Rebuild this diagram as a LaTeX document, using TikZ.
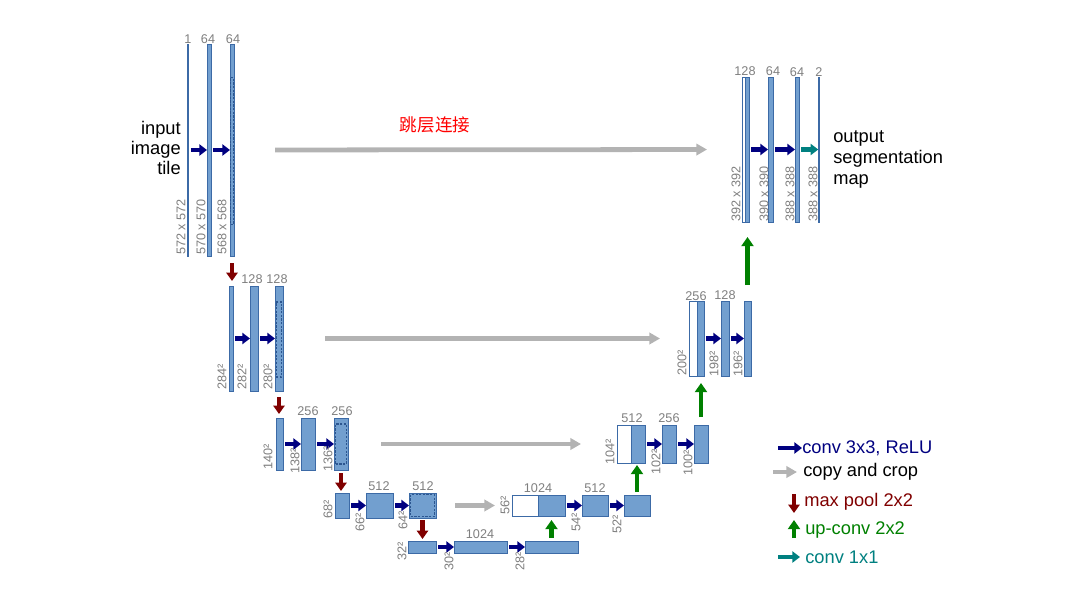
\documentclass[tikz,border=0pt]{standalone}
\usepackage{fontspec}
\setmainfont{Liberation Sans}
\newfontfamily\cjk{Noto Sans CJK SC}
\usetikzlibrary{arrows.meta}
\definecolor{fmfill}{HTML}{729FCF}
\definecolor{fmline}{HTML}{3C6AA6}
\definecolor{cropline}{HTML}{2C5690}
\definecolor{dimtxt}{HTML}{7F7F7F}
\definecolor{convc}{HTML}{000080}
\definecolor{copyc}{HTML}{B3B3B3}
\definecolor{poolc}{HTML}{800000}
\definecolor{upc}{HTML}{008000}
\definecolor{outc}{HTML}{008080}
\def\px{0.025cm}
% feature map: \fmap[style]{name}{centre}{w}{h}, sizes in px
\newcommand{\fmap}[5][fm]{\node[#1,minimum width=#4*\px,minimum height=#5*\px] (#2) at (#3) {};}
% rotated size label, bottom end at the coordinate
\newcommand{\dimv}[3]{\node[dimv] (#1) at (#2) {#3};}
\newcommand{\chn}[3]{\node[chn] (#1) at (#2) {#3};}

\begin{document}
\begin{tikzpicture}[x=\px,y=-\px,
  fm/.style={draw=fmline,fill=fmfill,inner sep=0,outer sep=0,line width=0.6pt},
  fmw/.style={fm,fill=white},
  crop/.style={draw=cropline,dash pattern=on 1.6pt off 1pt,inner sep=0,outer sep=0,line width=0.8pt},
  chn/.style={dimtxt,font=\fontsize{9}{10}\selectfont,inner sep=0},
  dimv/.style={dimtxt,font=\fontsize{9}{10}\selectfont,rotate=90,anchor=west,inner sep=0},
  lgd/.style={font=\fontsize{13}{15}\selectfont,anchor=west,inner sep=0},
  conv/.style={convc,line width=3pt,shorten <=1.5pt,-{Triangle[length=5.5pt,width=8pt]}},
  outconv/.style={conv,outc},
  copy/.style={copyc,line width=3.4pt,-{Triangle[length=7.5pt,width=8pt]}},
  pool/.style={poolc,line width=3.4pt,-{Triangle[length=6pt,width=8pt]}},
  up/.style={upc,line width=3.4pt,-{Triangle[length=6.5pt,width=8.5pt]}}]
  \useasboundingbox (0,0) rectangle (1079,592);

  % contracting path
  \fmap{c11}{188,150}{1.5}{212}
  \fmap{c12}{209,150}{4}{212}
  \fmap{c13}{232,150}{4}{212}
  \fmap{c21}{231,338.5}{4}{105}
  \fmap{c22}{254,338.5}{8}{105}
  \fmap{c23}{279,338.5}{8}{105}
  \fmap{c31}{279.5,444}{7}{52}
  \fmap{c32}{308,444}{14}{52}
  \fmap{c33}{341,444}{14}{52}
  \fmap{c41}{342,505.5}{14}{25}
  \fmap{c42}{379.5,505.5}{27}{25}
  \fmap{c43}{422.5,505.5}{27}{25}
  \fmap{c51}{422,547}{28}{12}
  \fmap{c52}{480.5,547}{53}{12}
  \fmap{c53}{551.5,547}{53}{12}
  % cropped parts
  \fmap[crop]{k1}{232,151}{2.8}{147}
  \fmap[crop]{k2}{279,339.5}{5.7}{75}
  \fmap[crop]{k3}{341,444}{10.7}{40}
  \fmap[crop]{k4}{422.5,505.5}{23.6}{22}

  % expansive path
  \fmap[fmw]{u41w}{525,505.5}{26}{21}
  \fmap{u41}{551.5,505.5}{27}{21}
  \fmap{u42}{595,505.5}{26}{21}
  \fmap{u43}{637,505.5}{26}{21}
  \fmap[fmw]{u31w}{624,444}{14}{38}
  \fmap{u31}{638,444}{14}{38}
  \fmap{u32}{669,444}{14}{38}
  \fmap{u33}{701,444}{14}{38}
  \fmap[fmw]{u21w}{693,338.5}{8}{75}
  \fmap{u21}{700.5,338.5}{7}{75}
  \fmap{u22}{725,338.5}{8}{75}
  \fmap{u23}{747.5,338.5}{7}{75}
  \fmap[fmw]{u11w}{743.5,149.5}{3}{145}
  \fmap{u11}{747,149.5}{4}{145}
  \fmap{u12}{770.5,149.5}{5}{145}
  \fmap{u13}{797,149.5}{4}{145}
  \fmap{u14}{819,149.5}{1.5}{145}

  % conv 3x3
  \foreach \a/\b in {c11/c12,c12/c13,c21/c22,c22/c23,c31/c32,c32/c33,c41/c42,c42/c43,
    c51/c52,c52/c53,u41/u42,u42/u43,u31/u32,u32/u33,u21/u22,u22/u23,u11/u12,u12/u13}
    \draw[conv] (\a.east) -- (\b.west);
  \draw[outconv] (u13.east) -- (u14.west);

  % copy and crop
  \draw[copy,shorten <=41*\px,shorten >=35*\px] (c13.east) -- (u11w.west);
  \draw[copy,shorten <=42*\px,shorten >=29*\px] (c23.east) -- (u21w.west);
  \draw[copy,shorten <=33*\px,shorten >=36*\px] (c33.east) -- (u31w.west);
  \draw[copy,shorten <=19*\px,shorten >=17*\px] (c43.east) -- (u41w.west);

  % max pool
  \draw[pool,shorten <=7*\px,shorten >=5*\px] (c13.south) -- (c13.south |- c21.north);
  \draw[pool,shorten <=6*\px,shorten >=4*\px] (c23.south) -- (c23.south |- c31.north);
  \draw[pool,shorten <=3*\px,shorten >=2*\px] (c33.south) -- (c33.south |- c41.north);
  \draw[pool,shorten <=2*\px,shorten >=2*\px] (c43.south) -- (c43.south |- c51.north);

  % up-conv
  \draw[up,shorten <=3*\px,shorten >=4*\px] (c53.north) -- (c53.north |- u41.south);
  \draw[up,shorten <=3*\px,shorten >=2*\px] (u43.north) -- (u43.north |- u31.south);
  \draw[up,shorten <=8*\px,shorten >=7*\px] (u33.north) -- (u33.north |- u21.south);
  \draw[up,shorten <=16*\px,shorten >=15*\px] (u23.north) -- (u23.north |- u11.south);

  % channels
  \chn{n11}{188,39}{1}
  \chn{n12}{208,39}{64}
  \chn{n13}{233,39}{64}
  \chn{n22}{252,279}{128}
  \chn{n23}{277,279}{128}
  \chn{n32}{308,411}{256}
  \chn{n33}{342,411}{256}
  \chn{n42}{379,486}{512}
  \chn{n43}{423,486}{512}
  \chn{n52}{480,534}{1024}
  \chn{m41}{538,488}{1024}
  \chn{m42}{595,488}{512}
  \chn{m31}{632,418}{512}
  \chn{m32}{669,418}{256}
  \chn{m21}{696,296}{256}
  \chn{m22}{725,295}{128}
  \chn{m11}{745,71}{128}
  \chn{m12}{773,71}{64}
  \chn{m13}{797,72}{64}
  \chn{m14}{819,72}{2}

  % sizes
  \dimv{s11}{181,255}{572 x 572}
  \dimv{s12}{201,255}{570 x 570}
  \dimv{s13}{222,255}{568 x 568}
  \dimv{s21}{222,390}{284²}
  \dimv{s22}{242,390}{282²}
  \dimv{s23}{268,390}{280²}
  \dimv{s31}{268,470}{140²}
  \dimv{s32}{295,474}{138²}
  \dimv{s33}{328,472}{136²}
  \dimv{s41}{328,519}{68²}
  \dimv{s42}{360,532}{66²}
  \dimv{s43}{403,530}{64²}
  \dimv{s51}{402,561}{32²}
  \dimv{s52}{449,571}{30²}
  \dimv{s53}{520,571}{28²}
  \dimv{t41}{505,515}{56²}
  \dimv{t42}{576,532}{54²}
  \dimv{t43}{617,534}{52²}
  \dimv{t31}{610,465}{104²}
  \dimv{t32}{656,475}{102²}
  \dimv{t33}{688,476}{100²}
  \dimv{t21}{682,376}{200²}
  \dimv{t22}{714,377}{198²}
  \dimv{t23}{738,377}{196²}
  \dimv{t11}{736,222}{392 x 392}
  \dimv{t12}{764,222}{390 x 390}
  \dimv{t13}{790,222}{388 x 388}
  \dimv{t14}{813,222}{388 x 388}

  \node[font=\fontsize{13}{14.5}\selectfont,align=right,anchor=east,inner sep=0] (inp) at (181,148) {input\\image\\tile};
  \node[font=\fontsize{13}{14.8}\selectfont,align=left,anchor=west,inner sep=0] (outp) at (833,159.5) {output\\segmentation\\map};
  \node[red,font=\cjk\fontsize{12.5}{14}\selectfont,inner sep=0] (skip) at (435,125) {跳层连接};

  % legend
  \node[lgd,convc] (lg1) at (802,448) {conv 3x3, ReLU};
  \node[lgd] (lg2) at (803,472) {copy and crop};
  \node[lgd,poolc] (lg3) at (804,502) {max pool 2x2};
  \node[lgd,upc] (lg4) at (805,530) {up-conv 2x2};
  \node[lgd,outc] (lg5) at (805,557) {conv 1x1};
  \coordinate (lg1s) at (778,448);
  \coordinate (lg2s) at (773,472);
  \coordinate (lg3s) at (794,494);
  \coordinate (lg3e) at (794,513);
  \coordinate (lg4s) at (794,538);
  \coordinate (lg4e) at (794,520);
  \coordinate (lg5s) at (778,557);
  \draw[conv,shorten <=0pt] (lg1s) -- (lg1.west);
  \draw[copy] (lg2s) -- ([xshift=-6*\px]lg2.west);
  \draw[pool] (lg3s) -- (lg3e);
  \draw[up] (lg4s) -- (lg4e);
  \draw[outconv,shorten <=0pt] (lg5s) -- ([xshift=-5*\px]lg5.west);
\end{tikzpicture}
\end{document}
